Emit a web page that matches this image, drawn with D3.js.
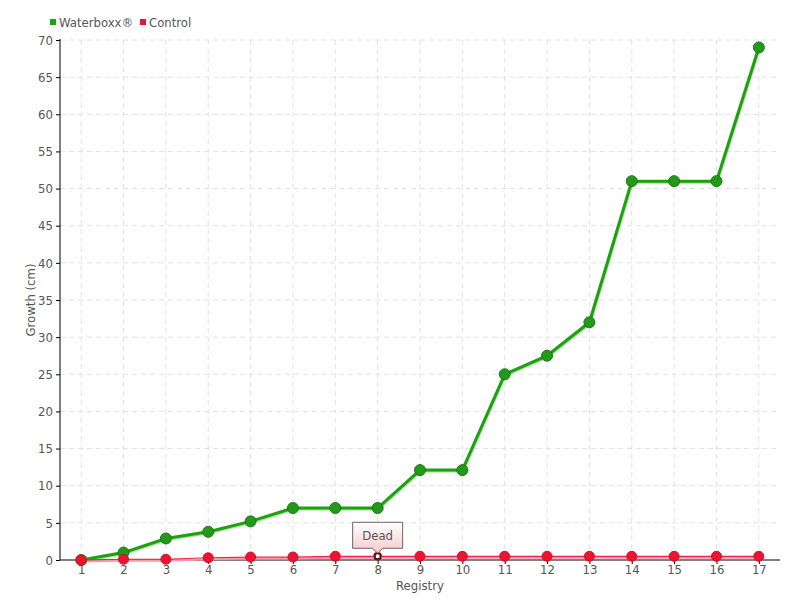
<!DOCTYPE html>
<html><head><meta charset="utf-8">
<script src="https://cdn.jsdelivr.net/npm/d3@7"></script>
<style>
body{margin:0;background:#fff;}
text{font-family:"DejaVu Sans Condensed","Liberation Sans Narrow",sans-serif;fill:#555;}
</style></head><body>
<svg id="c" width="800" height="600"></svg>
<script>
const categories = ["1","2","3","4","5","6","7","8","9","10","11","12","13","14","15","16","17"];
const waterboxx = [0,1,2.9,3.8,5.2,7,7,7,12.1,12.1,25,27.5,32,51,51,51,69];
const control = [0,0.1,0.1,0.3,0.4,0.4,0.5,0.5,0.5,0.5,0.5,0.5,0.5,0.5,0.5,0.5,0.5];
const yTicks = [0,5,10,15,20,25,30,35,40,45,50,55,60,65,70];
const deadIndex = 7;

(function(){
const svg = d3.select("#c");
const pL=60, pR=780, pT=40, pB=560;
const x = d3.scalePoint().domain(categories).range([pL,pR]).padding(0.5);
const y = d3.scaleLinear().domain([0,70]).range([pB,pT]);

// grid
const g = svg.append("g");
g.selectAll(".hg").data(yTicks.filter(d=>d>0)).join("line")
 .attr("x1",pL).attr("x2",pR).attr("y1",d=>y(d)).attr("y2",d=>y(d))
 .attr("stroke","#e2e2e2").attr("stroke-dasharray","5,4");
g.selectAll(".vg").data(categories).join("line")
 .attr("x1",d=>x(d)).attr("x2",d=>x(d)).attr("y1",pT).attr("y2",pB)
 .attr("stroke","#e2e2e2").attr("stroke-dasharray","5,4");

// axes
const ya = svg.append("g").attr("transform",`translate(${pL},0)`)
 .call(d3.axisLeft(y).tickValues(yTicks).tickSize(4).tickPadding(3));
ya.select(".domain").attr("stroke","#000").attr("d",`M0,${pB}V${pT-1}`);
ya.selectAll(".tick line").attr("stroke","#000");
ya.selectAll("text").style("font-size","13px").attr("fill","#555");
const xa = svg.append("g").attr("transform",`translate(0,${pB})`)
 .call(d3.axisBottom(x).tickSize(4).tickPadding(1));
xa.select(".domain").attr("stroke","#000").attr("d",`M${pL},0H${pR}`);
xa.selectAll(".tick line").attr("stroke","#000");
xa.selectAll("text").style("font-size","13px").attr("fill","#555");

svg.append("text").attr("x",420).attr("y",590).attr("text-anchor","middle").style("font-size","13px").text("Registry");
svg.append("text").attr("transform","translate(35,300) rotate(-90)").attr("text-anchor","middle").style("font-size","13px").text("Growth (cm)");

// lines
const line = d3.line().x((d,i)=>x(categories[i])).y(d=>y(d));
svg.append("path").datum(waterboxx).attr("d",line).attr("fill","none").attr("stroke","#66cc55").attr("stroke-width",2).attr("opacity",0.6).attr("transform","translate(1,1.5)");
svg.append("path").datum(waterboxx).attr("d",line).attr("fill","none").attr("stroke","#1ea010").attr("stroke-width",3);
svg.append("path").datum(control).attr("d",line).attr("fill","none").attr("stroke","#ff99aa").attr("stroke-width",2).attr("transform","translate(0,1.5)");
svg.append("path").datum(control).attr("d",line).attr("fill","none").attr("stroke","#ee2244").attr("stroke-width",1.2);

// markers
svg.selectAll(".gp").data(waterboxx).join("circle")
 .attr("cx",(d,i)=>x(categories[i])).attr("cy",d=>y(d)).attr("r",5.5)
 .attr("fill","#229918").attr("stroke","#1a7a12").attr("stroke-width",1);
svg.selectAll(".rp").data(control.map((v,i)=>({v,i})).filter(d=>d.i!==deadIndex)).join("circle")
 .attr("cx",d=>x(categories[d.i])).attr("cy",d=>y(d.v)).attr("r",5)
 .attr("fill","#ee1430").attr("stroke","#d01028").attr("stroke-width",1);
// dead marker
const dx = x(categories[deadIndex]), dy = y(control[deadIndex]);
svg.append("circle").attr("cx",dx).attr("cy",dy).attr("r",4.5).attr("fill","#ee1430");
svg.append("rect").attr("x",dx-2.5).attr("y",dy-2.5).attr("width",5).attr("height",5).attr("fill","#fff").attr("stroke","#000").attr("stroke-width",1.2);

// callout
const defs = svg.append("defs");
const grad = defs.append("linearGradient").attr("id","pg").attr("x1",0).attr("y1",0).attr("x2",0).attr("y2",1);
grad.append("stop").attr("offset","0%").attr("stop-color","#ffffff");
grad.append("stop").attr("offset","100%").attr("stop-color","#f7c8cc");
const bw=50,bh=26,bx=dx-25,by=dy-34;
svg.append("path").attr("d",`M${bx},${by}H${bx+bw}V${by+bh}H${dx+5}L${dx},${by+bh+5}L${dx-5},${by+bh}H${bx}Z`)
 .attr("fill","url(#pg)").attr("stroke","#666").attr("stroke-width",1);
svg.append("text").attr("x",dx).attr("y",by+18).attr("text-anchor","middle").style("font-size","13px").text("Dead");

// legend
const leg = svg.append("g");
leg.append("rect").attr("x",50).attr("y",19).attr("width",6).attr("height",6).attr("fill","#1ea010");
leg.append("text").attr("x",59).attr("y",27).style("font-size","13px").text("Waterboxx®");
leg.append("rect").attr("x",140).attr("y",19).attr("width",6).attr("height",6).attr("fill","#ee1430");
leg.append("text").attr("x",149).attr("y",27).style("font-size","13px").text("Control");
})();
</script>
</body></html>
